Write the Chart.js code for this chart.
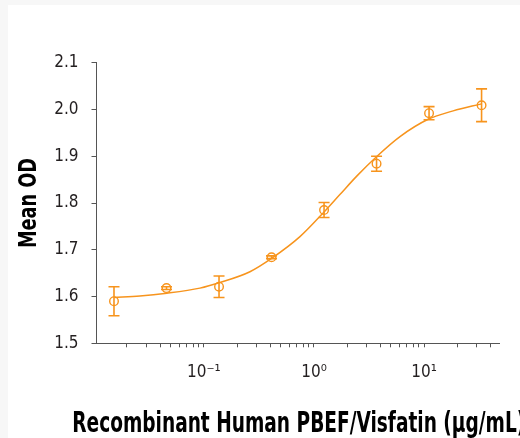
<!DOCTYPE html>
<html>
<head>
<meta charset="utf-8">
<script src="https://cdn.jsdelivr.net/npm/chart.js@4/dist/chart.umd.min.js"></script>
<style>
  html, body { margin: 0; padding: 0; background: #f7f7f7; width: 520px; height: 438px; overflow: hidden; }
  #wrap { position: absolute; left: 8px; top: 5px; width: 512px; height: 433px; background: #ffffff; }
  canvas { display: block; }
</style>
</head>
<body>
<div id="wrap"><canvas id="c" width="512" height="433"></canvas></div>
<script>
// ---- data ----
const concentrations = [0.01524, 0.04572, 0.1372, 0.4115, 1.235, 3.704, 11.11, 33.33]; // µg/mL
const meanOD = [1.590, 1.618, 1.621, 1.684, 1.785, 1.884, 1.992, 2.009];
const errorOD = [0.031, 0.003, 0.023, 0.003, 0.016, 0.016, 0.014, 0.035];

// fitted curve
const curveX = [0.01524, 0.0262, 0.0461, 0.092, 0.14, 0.262, 0.415, 0.746, 1.26, 1.72, 2.46, 3.74, 6.05, 10.9, 18.4, 33.33];
const curveY = [1.598, 1.601, 1.607, 1.618, 1.630, 1.653, 1.682, 1.728, 1.783, 1.818, 1.858, 1.900, 1.942, 1.979, 1.997, 2.012];

// axis ticks
const yTicks = [1.5, 1.6, 1.7, 1.8, 1.9, 2.0, 2.1];
const xTickValues = [0.02,0.03,0.04,0.05,0.06,0.07,0.08,0.09,
                     0.1,0.2,0.3,0.4,0.5,0.6,0.7,0.8,0.9,
                     1,2,3,4,5,6,7,8,9,
                     10,20,30,40];
const xTickLabels = { 0.1: '10\u207B\u00B9', 1: '10\u2070', 10: '10\u00B9' };

const xTitle = 'Recombinant Human PBEF/Visfatin (\u00B5g/mL)';
const yTitle = 'Mean OD';

// ---- styling ----
const ORANGE = '#F7941D';
const AXIS = '#555555';
const TEXT = '#231F20';
const FAMILY = "'Liberation Sans Narrow', 'DejaVu Sans Condensed', 'DejaVu Sans', sans-serif";

// build datasets from the arrays
const curveData = curveX.map((x, i) => ({ x: x, y: curveY[i] }));
const pointData = concentrations.map((x, i) => ({ x: x, y: meanOD[i] }));
const stemData = [];
const capData = [];
concentrations.forEach((x, i) => {
  stemData.push({ x: x, y: meanOD[i] - errorOD[i] });
  stemData.push({ x: x, y: meanOD[i] + errorOD[i] });
  stemData.push({ x: x, y: null });
  capData.push({ x: x, y: meanOD[i] - errorOD[i] });
  capData.push({ x: x, y: meanOD[i] + errorOD[i] });
});

// axis titles in a tall, condensed bold face (the x title runs off the right edge, as in the reference)
const axisTitlePlugin = {
  id: 'axisTitlePlugin',
  afterDraw(chart) {
    const ctx = chart.ctx;
    const area = chart.chartArea;
    ctx.save();
    ctx.fillStyle = '#000000';
    ctx.textAlign = 'center';
    ctx.textBaseline = 'alphabetic';
    ctx.font = "bold 28px " + FAMILY;
    ctx.fillText(xTitle, (area.left + area.right) / 2 + 1, chart.height - 6.3, 453);
    ctx.translate(21.7, (area.top + area.bottom) / 2);
    ctx.rotate(-Math.PI / 2);
    ctx.textBaseline = 'middle';
    ctx.font = "bold 24px " + FAMILY;
    ctx.fillText(yTitle, 0, 0, 90);
    ctx.restore();
  }
};

new Chart(document.getElementById('c'), {
  type: 'scatter',
  data: {
    datasets: [
      { type: 'line', data: curveData, borderColor: ORANGE, borderWidth: 1.5,
        pointRadius: 0, fill: false, cubicInterpolationMode: 'monotone' },
      { type: 'line', data: stemData, borderColor: ORANGE, borderWidth: 1.6,
        pointRadius: 0, fill: false, spanGaps: false, tension: 0 },
      { type: 'scatter', data: capData, pointStyle: 'line', pointRadius: 5.5,
        borderColor: ORANGE, pointBorderWidth: 1.6, backgroundColor: ORANGE },
      { type: 'scatter', data: pointData, pointStyle: 'circle', pointRadius: 4.3,
        borderColor: ORANGE, pointBorderWidth: 1.4, backgroundColor: 'rgba(0,0,0,0)' }
    ]
  },
  plugins: [axisTitlePlugin],
  options: {
    responsive: false,
    animation: false,
    events: [],
    layout: { padding: { left: 0, right: 21, top: 57.7, bottom: 0 } },
    plugins: { legend: { display: false }, tooltip: { enabled: false } },
    scales: {
      x: {
        type: 'logarithmic',
        min: 0.01057,
        max: 48,
        afterBuildTicks: (scale) => { scale.ticks = xTickValues.map(v => ({ value: v, major: v in xTickLabels })); },
        afterFit: (scale) => { scale.height = 94.7; },
        border: { display: true, color: AXIS, width: 1 },
        grid: { drawOnChartArea: false, drawTicks: true, tickLength: 4, color: AXIS, lineWidth: 1 },
        ticks: {
          autoSkip: false, maxRotation: 0, minRotation: 0, padding: 15,
          color: TEXT, font: { family: FAMILY, size: 17 },
          callback: (v) => xTickLabels[v] || ''
        },
        title: { display: false }
      },
      y: {
        type: 'linear',
        min: 1.5,
        max: 2.1,
        afterBuildTicks: (scale) => { scale.ticks = yTicks.map(v => ({ value: v })); },
        afterFit: (scale) => { scale.width = 88.5; },
        border: { display: true, color: AXIS, width: 1 },
        grid: { drawOnChartArea: false, drawTicks: true, tickLength: 5, color: AXIS, lineWidth: 1 },
        ticks: {
          padding: 13, color: TEXT, font: { family: FAMILY, size: 17 },
          callback: (v) => Number(v).toFixed(1)
        },
        title: { display: false }
      }
    }
  }
});
</script>
</body>
</html>
